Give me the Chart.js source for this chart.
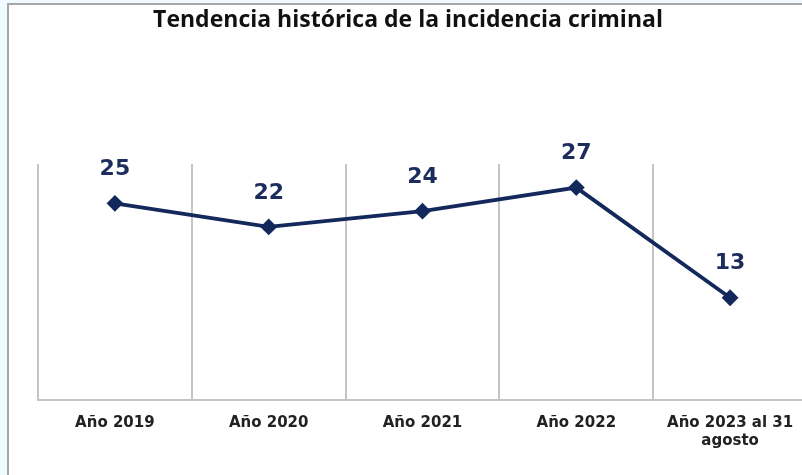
<!DOCTYPE html>
<html>
<head>
<meta charset="utf-8">
<script src="https://cdn.jsdelivr.net/npm/chart.js@4"></script>
<style>
  html, body { margin: 0; padding: 0; overflow: hidden; background: #effbff; }
  #frame {
    position: absolute; left: 7px; top: 3px; width: 820px; height: 500px;
    background: #fff; border-left: 2px solid #a6a6a6; border-top: 2px solid #a6a6a6;
  }
  #wrap { position: absolute; left: 0; top: 0; width: 816px; height: 475px; }
</style>
</head>
<body>
<div id="frame"></div>
<div id="wrap"><canvas id="chart1"></canvas></div>
<script>
// datos
var chartTitle = "Tendencia histórica de la incidencia criminal";
var categories = ["Año 2019", "Año 2020", "Año 2021", "Año 2022", ["Año 2023 al 31", "agosto"]];
var incidencia = [25, 22, 24, 27, 13];
var navy = "#13295c";

// titulo centrado en el lienzo (no sobre el area del grafico)
var canvasTitle = {
  id: "canvasTitle",
  afterDraw: function (chart) {
    var ctx = chart.ctx;
    ctx.save();
    ctx.font = "bold 23px 'Open Sans'";
    ctx.fillStyle = "#111";
    ctx.textAlign = "center";
    ctx.textBaseline = "middle";
    ctx.fillText(chartTitle, chart.width / 2, 20);
    ctx.restore();
  },
};

// etiquetas de valor encima de cada punto
var valueLabels = {
  id: "valueLabels",
  afterDatasetsDraw: function (chart) {
    var ctx = chart.ctx;
    var meta = chart.getDatasetMeta(0);
    ctx.save();
    ctx.font = "bold 22px 'DejaVu Sans'";
    ctx.fillStyle = "#1c2c5c";
    ctx.textAlign = "center";
    ctx.textBaseline = "middle";
    meta.data.forEach(function (pt, i) {
      ctx.fillText(chart.data.datasets[0].data[i], pt.x, pt.y - 34);
    });
    ctx.restore();
  },
};

new Chart(document.getElementById("chart1"), {
  type: "line",
  data: {
    labels: categories,
    datasets: [
      {
        data: incidencia,
        borderColor: navy,
        backgroundColor: navy,
        borderWidth: 3.8,
        pointStyle: "rectRot",
        pointRadius: 7,
        pointBorderWidth: 2,
        pointBackgroundColor: navy,
        pointBorderColor: navy,
        tension: 0,
      },
    ],
  },
  options: {
    responsive: true,
    maintainAspectRatio: false,
    animation: false,
    events: [],
    layout: { padding: { left: 38, right: 8, top: 164, bottom: 11 } },
    plugins: {
      legend: { display: false },
      tooltip: { enabled: false },
      title: { display: false },
    },
    scales: {
      x: {
        offset: true,
        grid: {
          offset: true,
          color: "#c4c4c4",
          lineWidth: 2,
          drawTicks: false,
        },
        border: { color: "#c4c4c4", width: 2 },
        ticks: {
          color: "#222",
          padding: 14,
          font: { family: "'DejaVu Sans'", size: 15, weight: "bold" },
          maxRotation: 0,
          autoSkip: false,
        },
      },
      y: {
        display: false,
        min: 0,
        max: 30,
      },
    },
  },
  plugins: [valueLabels, canvasTitle],
});
</script>
</body>
</html>
